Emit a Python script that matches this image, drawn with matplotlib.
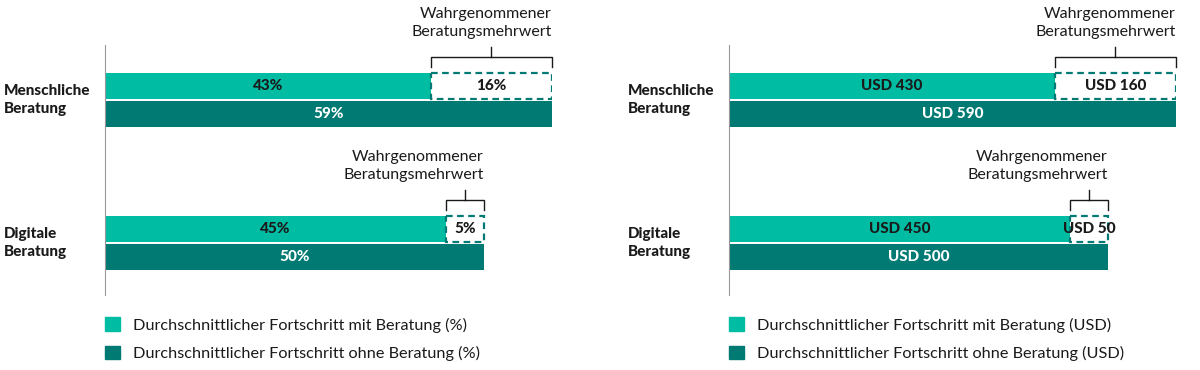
import matplotlib.pyplot as plt
from matplotlib.patches import Patch

plt.rcParams['font.family'] = ['Lato', 'DejaVu Sans']

categories = ["Menschliche\nBeratung", "Digitale\nBeratung"]

# left panel, percent
pct_with = [43, 45]
pct_without = [59, 50]
pct_with_labels = ["43%", "45%"]
pct_gap_labels = ["16%", "5%"]
pct_without_labels = ["59%", "50%"]

# right panel, USD
usd_with = [430, 450]
usd_without = [590, 500]
usd_with_labels = ["USD 430", "USD 450"]
usd_gap_labels = ["USD 160", "USD 50"]
usd_without_labels = ["USD 590", "USD 500"]

legend_pct = ["Durchschnittlicher Fortschritt mit Beratung (%)",
              "Durchschnittlicher Fortschritt ohne Beratung (%)"]
legend_usd = ["Durchschnittlicher Fortschritt mit Beratung (USD)",
              "Durchschnittlicher Fortschritt ohne Beratung (USD)"]

annot_text = "Wahrgenommener\nBeratungsmehrwert"

light = "#00BCA3"
dark = "#007A73"
ink = "#1a1a1a"

fig = plt.figure(figsize=(12, 3.7), dpi=100)


def panel(left_px, xmax, with_vals, without_vals, with_lbl, gap_lbl, without_lbl, legend_lbl):
    ax = fig.add_axes([left_px / 1200, 1 - 295 / 370, 447 / 1200, 250 / 370])
    ax.set_xlim(0, xmax)
    ax.set_ylim(1.364, -0.385)
    ys = range(len(categories))
    h = 0.18
    for i in ys:
        w, t = with_vals[i], without_vals[i]
        ax.barh(i - 0.1, w, height=h, color=light)
        ax.barh(i - 0.1, t - w, left=w, height=h, color="white",
                edgecolor=dark, linewidth=1.6, linestyle=(0, (3, 2)))
        ax.barh(i + 0.1, t, height=h, color=dark)
        ax.text(w / 2, i - 0.1, with_lbl[i], ha="center", va="center",
                fontsize=11, fontweight="black", color=ink)
        ax.text((w + t) / 2, i - 0.1, gap_lbl[i], ha="center", va="center",
                fontsize=11, fontweight="black", color=ink)
        ax.text(t / 2, i + 0.1, without_lbl[i], ha="center", va="center",
                fontsize=11, fontweight="black", color="white")
        # bracket
        yb = i - 0.30
        ax.plot([w, w, t, t], [i - 0.23, yb, yb, i - 0.23], color=ink,
                lw=1, clip_on=False, solid_joinstyle="miter")
        ax.plot([(w + t) / 2] * 2, [yb, i - 0.37], color=ink, lw=1, clip_on=False)
        ax.text(t, i - 0.425, annot_text, ha="right", va="bottom",
                fontsize=11.5, color=ink, linespacing=1.4)
        ax.text(-0.226, i, categories[i], transform=ax.get_yaxis_transform(),
                ha="left", va="center", fontsize=11, fontweight="black",
                color=ink, linespacing=1.4)
    for s in ["top", "right", "bottom"]:
        ax.spines[s].set_visible(False)
    ax.spines["left"].set_color("#999999")
    ax.spines["left"].set_linewidth(0.8)
    ax.set_xticks([])
    ax.set_yticks([])
    handles = [Patch(color=light), Patch(color=dark)]
    ax.legend(handles, legend_lbl, loc="upper left", bbox_to_anchor=(0, -0.09),
              frameon=False, fontsize=11.7, handlelength=0.9, handleheight=0.9,
              handletextpad=0.8, labelspacing=0.8, borderaxespad=0, borderpad=0,
              labelcolor=ink)
    return ax


panel(105, 59, pct_with, pct_without, pct_with_labels, pct_gap_labels,
      pct_without_labels, legend_pct)
panel(729, 590, usd_with, usd_without, usd_with_labels, usd_gap_labels,
      usd_without_labels, legend_usd)

fig.savefig("out.png", dpi=100)
